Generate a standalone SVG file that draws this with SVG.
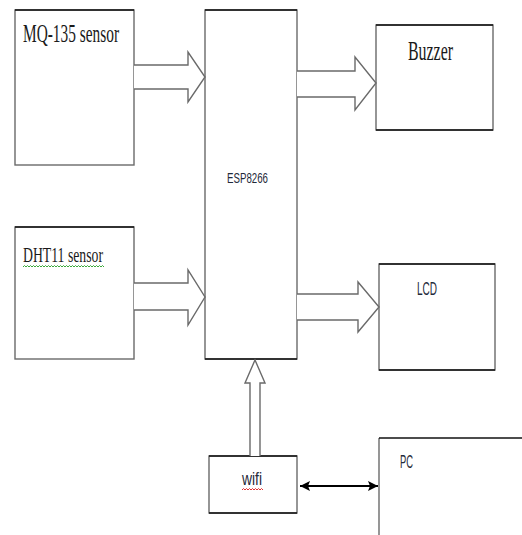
<svg xmlns="http://www.w3.org/2000/svg" width="522" height="535" viewBox="0 0 522 535">
<style>
.box{fill:#fff;stroke:#6a6a6a;stroke-width:1.4}
.top{stroke:#111;stroke-width:1.6}
.blk{fill:#fff;stroke:#6a6a6a;stroke-width:1.4;stroke-linejoin:miter}
.serif{font-family:"Liberation Serif","Times New Roman",serif;fill:#1a1a1a}
.sans{font-family:"Liberation Sans",Arial,sans-serif;fill:#1f2a3a}
.sq{fill:none;stroke-width:1}
</style>
<defs>
<marker id="ah" markerUnits="userSpaceOnUse" markerWidth="12" markerHeight="12" refX="10" refY="6" orient="auto-start-reverse">
<path d="M0,1 L10,6 L0,11 L2,6 Z" fill="#000"/>
</marker>
</defs>
<rect width="522" height="535" fill="#fff"/>
<g id="mq135">
<rect class="box" x="15" y="10" width="119" height="155"/>
<line class="top" x1="15" y1="10" x2="134" y2="10"/>
<text class="serif" x="23" y="42" font-size="26" textLength="96" lengthAdjust="spacingAndGlyphs">MQ-135 sensor</text>
</g>
<g id="dht11">
<rect class="box" x="15" y="227" width="119" height="132"/>
<line class="top" x1="15" y1="227" x2="134" y2="227"/>
<text class="serif" x="23" y="262" font-size="21" textLength="80" lengthAdjust="spacingAndGlyphs">DHT11 sensor</text>
<path class="sq" stroke="#3aa83a" d="M23,267 l1.5,-1.5 l1.5,1.5 l1.5,-1.5 l1.5,1.5 l1.5,-1.5 l1.5,1.5 l1.5,-1.5 l1.5,1.5 l1.5,-1.5 l1.5,1.5 l1.5,-1.5 l1.5,1.5 l1.5,-1.5 l1.5,1.5 l1.5,-1.5 l1.5,1.5 l1.5,-1.5 l1.5,1.5 l1.5,-1.5 l1.5,1.5 l1.5,-1.5 l1.5,1.5 l1.5,-1.5 l1.5,1.5 l1.5,-1.5 l1.5,1.5 l1.5,-1.5 l1.5,1.5 l1.5,-1.5 l1.5,1.5 l1.5,-1.5 l1.5,1.5 l1.5,-1.5 l1.5,1.5 l1.5,-1.5 l1.5,1.5 l1.5,-1.5 l1.5,1.5 l1.5,-1.5 l1.5,1.5 l1.5,-1.5 l1.5,1.5 l1.5,-1.5 l1.5,1.5 l1.5,-1.5 l1.5,1.5 l1.5,-1.5 l1.5,1.5 l1.5,-1.5 l1.5,1.5 l1.5,-1.5 l1.5,1.5 l1.5,-1.5 l1.5,1.5"/>
</g>
<g id="esp8266">
<rect class="box" x="205" y="10" width="92" height="349"/>
<line class="top" x1="205" y1="10" x2="297" y2="10"/>
<line class="top" x1="205" y1="359" x2="297" y2="359"/>
<text class="sans" x="227" y="183" font-size="15" textLength="41" lengthAdjust="spacingAndGlyphs">ESP8266</text>
</g>
<g id="buzzer">
<rect class="box" x="376" y="25" width="117" height="105"/>
<line class="top" x1="376" y1="25" x2="493" y2="25"/>
<line class="top" x1="376" y1="130" x2="493" y2="130"/>
<text class="serif" x="408" y="60" font-size="27" textLength="45" lengthAdjust="spacingAndGlyphs">Buzzer</text>
</g>
<g id="lcd">
<rect class="box" x="379" y="264" width="116" height="106"/>
<line class="top" x1="379" y1="264" x2="495" y2="264"/>
<line class="top" x1="379" y1="370" x2="495" y2="370"/>
<text class="sans" x="417" y="295" font-size="18" textLength="20" lengthAdjust="spacingAndGlyphs">LCD</text>
</g>
<g id="wifi">
<rect class="box" x="209" y="456" width="88" height="57"/>
<line class="top" x1="209" y1="456" x2="297" y2="456"/>
<line class="top" x1="209" y1="513" x2="297" y2="513"/>
<text class="sans" x="242" y="485" font-size="18" textLength="20" lengthAdjust="spacingAndGlyphs">wifi</text>
<path class="sq" stroke="#e03030" d="M242,490 l1.5,-1.5 l1.5,1.5 l1.5,-1.5 l1.5,1.5 l1.5,-1.5 l1.5,1.5 l1.5,-1.5 l1.5,1.5 l1.5,-1.5 l1.5,1.5 l1.5,-1.5 l1.5,1.5 l1.5,-1.5 l1.5,1.5"/>
</g>
<g id="pc">
<path fill="none" stroke="#6a6a6a" stroke-width="1.4" d="M379,535 L379,438"/>
<line class="top" x1="379" y1="438" x2="522" y2="438"/>
<text class="sans" x="400" y="468" font-size="18" textLength="13" lengthAdjust="spacingAndGlyphs">PC</text>
</g>
<g id="connectors">
<path class="blk" d="M134,65 L188,65 L188,52 L205,77 L188,102 L188,89 L134,89"/>
<path class="blk" d="M134,283 L188,283 L188,270 L205,297 L188,325 L188,310 L134,310"/>
<path class="blk" d="M297,71 L355,71 L355,57 L376,83 L355,110 L355,97 L297,97"/>
<path class="blk" d="M297,294 L358,294 L358,282 L379,307 L358,332 L358,320 L297,320"/>
<path class="blk" d="M250,456 L250,383 L245,383 L255,360 L265,383 L260,383 L260,456"/>
<line x1="300" y1="486" x2="378" y2="486" stroke="#000" stroke-width="2" marker-start="url(#ah)" marker-end="url(#ah)"/>
</g>
</svg>
